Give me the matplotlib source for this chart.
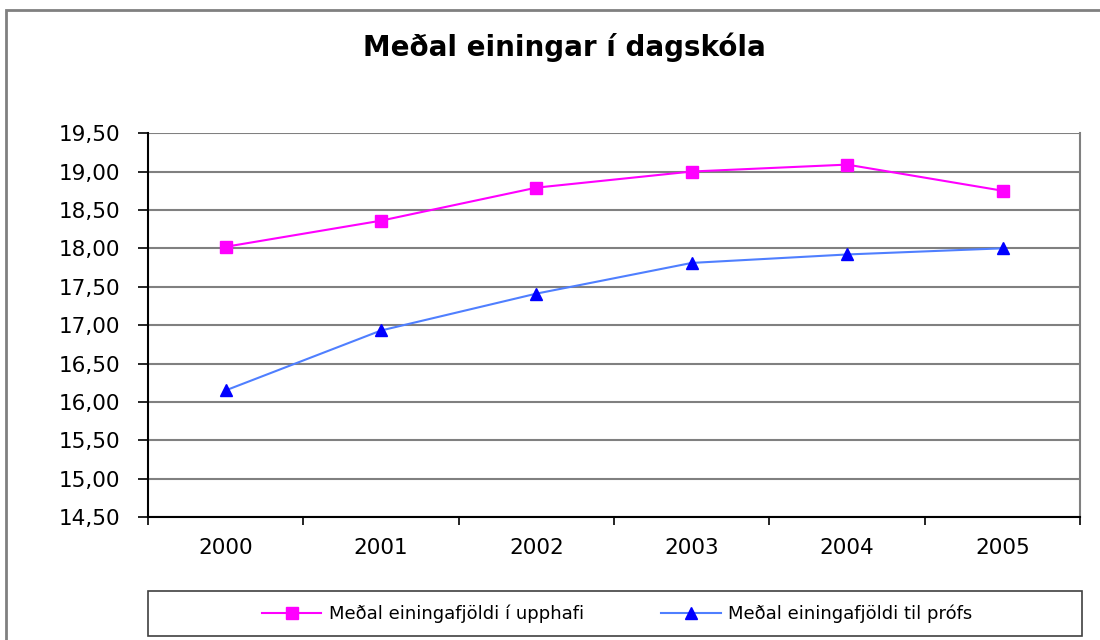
import matplotlib
matplotlib.use("Agg")
import matplotlib.pyplot as plt
from matplotlib.patches import Rectangle
from matplotlib.ticker import FuncFormatter

plt.rcParams['font.family'] = ['DejaVu Sans']

years = ['2000', '2001', '2002', '2003', '2004', '2005']
upphafi = [18.02, 18.36, 18.79, 19.00, 19.09, 18.75]
til_profs = [16.15, 16.93, 17.41, 17.81, 17.92, 18.00]
labels = ['Meðal einingafjöldi í upphafi', 'Meðal einingafjöldi til prófs']

fig = plt.figure(figsize=(11, 6.4), dpi=100)
ax = fig.add_axes([0.1345, 0.192, 0.8475, 0.6])

x = range(len(years))
ax.plot(x, upphafi, color='#ff00ff', lw=1.5, marker='s', ms=9,
        label=labels[0])
ax.plot(x, til_profs, color='#4f7fff', lw=1.5, marker='^', ms=9,
        markerfacecolor='#0000ff', markeredgecolor='#0000ff', label=labels[1])

ax.set_ylim(14.5, 19.5)
ax.set_yticks([14.5 + 0.5 * i for i in range(11)])
ax.yaxis.set_major_formatter(FuncFormatter(lambda v, p: f"{v:.2f}".replace('.', ',')))
ax.set_xlim(-0.5, 5.5)
ax.set_xticks(list(x))
ax.set_xticklabels(years)
ax.set_xticks([i - 0.5 for i in range(7)], minor=True)
ax.tick_params(axis='x', which='major', length=0, pad=15, labelsize=15.5)
ax.tick_params(axis='x', which='minor', length=6, width=1.2)
ax.tick_params(axis='y', length=7, width=1.2, labelsize=15.5, pad=13)

ax.grid(axis='y', color='#808080', lw=1.5)
ax.set_axisbelow(True)
ax.spines['left'].set_linewidth(1.5)
ax.spines['bottom'].set_linewidth(1.5)
ax.spines['top'].set_visible(False)
ax.spines['right'].set_color('#808080')
ax.spines['right'].set_linewidth(1.5)

fig.text(0.513, 0.926, 'Meðal einingar í dagskóla', ha='center', va='center',
         fontsize=20, fontweight='bold')

# legend box
fig.patches.append(Rectangle((0.1345, 0.006), 0.849, 0.071, transform=fig.transFigure,
                             fill=False, edgecolor='#404040', lw=1.2))
fig.legend(loc='center', bbox_to_anchor=(0.561, 0.041), ncol=2, frameon=False,
           fontsize=13, columnspacing=4.3, handlelength=3.3, handletextpad=0.4)

# outer chart border
fig.patches.append(Rectangle((0.005, -0.01), 1.1, 0.995, transform=fig.transFigure,
                             fill=False, edgecolor='#808080', lw=2))

fig.savefig('out.png', dpi=100)
